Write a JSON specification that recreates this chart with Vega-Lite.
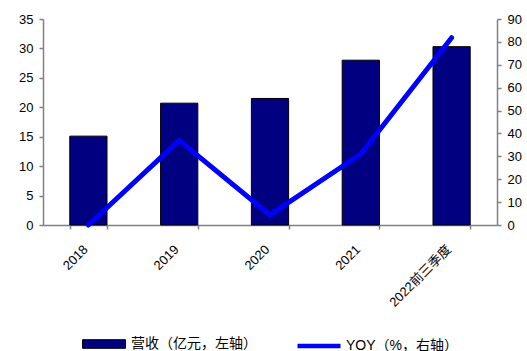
{
  "$schema": "https://vega.github.io/schema/vega-lite/v6.json",
  "width": 454,
  "height": 206,
  "autosize": {"type": "none"},
  "padding": {"left": 43, "top": 19, "right": 30, "bottom": 126},
  "background": "white",
  "data": {
    "values": [
      {"period": "2018", "revenue": 15.1, "yoy": 0.0},
      {"period": "2019", "revenue": 20.7, "yoy": 37.0},
      {"period": "2020", "revenue": 21.5, "yoy": 4.4},
      {"period": "2021", "revenue": 28.0, "yoy": 31.0},
      {"period": "2022前三季度", "revenue": 30.3, "yoy": 81.8}
    ]
  },
  "encoding": {
    "x": {
      "field": "period",
      "type": "ordinal",
      "sort": null,
      "scale": {"paddingInner": 0.59, "paddingOuter": 0.295},
      "axis": {
        "title": null,
        "labelAngle": -45,
        "labelAlign": "right",
        "labelBaseline": "middle",
        "labelOffset": -3,
        "tickBand": "extent",
        "domainColor": "#808080",
        "tickColor": "#808080",
        "tickSize": 4,
        "labelPadding": 18,
        "labelFontSize": 13,
        "labelLimit": 300,
        "labelColor": "#000000",
        "labelFont": "Liberation Sans, Noto Sans CJK SC"
      }
    }
  },
  "layer": [
    {
      "mark": {"type": "bar", "stroke": "#000000", "strokeWidth": 1},
      "encoding": {
        "y": {
          "field": "revenue",
          "type": "quantitative",
          "scale": {"domain": [0, 35], "nice": false},
          "axis": {
            "title": null,
            "orient": "left",
            "values": [0, 5, 10, 15, 20, 25, 30, 35],
            "grid": false,
            "domainColor": "#808080",
            "tickColor": "#808080",
            "tickSize": 4,
            "labelPadding": 6,
            "labelFontSize": 13,
            "labelColor": "#000000",
            "labelFont": "Liberation Sans"
          }
        },
        "fill": {
          "datum": "营收（亿元，左轴）",
          "scale": {"domain": ["营收（亿元，左轴）"], "range": ["#000080"]},
          "legend": {
            "title": null,
            "orient": "none",
            "legendX": 39,
            "legendY": 303,
            "padding": 0,
            "labelOffset": 5,
            "labelFontSize": 14,
            "labelLimit": 300,
            "labelColor": "#000000",
            "labelFont": "Liberation Sans, Noto Sans CJK SC",
            "symbolSize": 1849,
            "symbolType": "M-1,-0.2H1V0.2H-1Z",
            "symbolStrokeColor": "#000000",
            "symbolStrokeWidth": 1,
            "symbolOpacity": 1
          }
        }
      }
    },
    {
      "mark": {"type": "line", "strokeWidth": 5, "strokeCap": "round", "strokeJoin": "round"},
      "encoding": {
        "y": {
          "field": "yoy",
          "type": "quantitative",
          "scale": {"domain": [0, 90], "nice": false},
          "axis": {
            "title": null,
            "orient": "right",
            "values": [0, 10, 20, 30, 40, 50, 60, 70, 80, 90],
            "grid": false,
            "domainColor": "#808080",
            "tickColor": "#808080",
            "tickSize": 4,
            "labelPadding": 6,
            "labelFontSize": 13,
            "labelColor": "#000000",
            "labelFont": "Liberation Sans"
          }
        },
        "stroke": {
          "datum": "YOY（%，右轴）",
          "scale": {"domain": ["YOY（%，右轴）"], "range": ["#0000FF"]},
          "legend": {
            "title": null,
            "orient": "none",
            "legendX": 252,
            "legendY": 303,
            "padding": 0,
            "labelOffset": 3,
            "labelFontSize": 14,
            "labelLimit": 300,
            "labelColor": "#000000",
            "labelFont": "Liberation Sans, Noto Sans CJK SC",
            "symbolSize": 1849,
            "symbolType": "stroke",
            "symbolStrokeWidth": 4.5,
            "symbolOpacity": 1
          }
        }
      }
    }
  ],
  "resolve": {"scale": {"y": "independent"}},
  "config": {
    "view": {"stroke": null},
    "axis": {"domainWidth": 1.5, "tickWidth": 1.5}
  }
}
